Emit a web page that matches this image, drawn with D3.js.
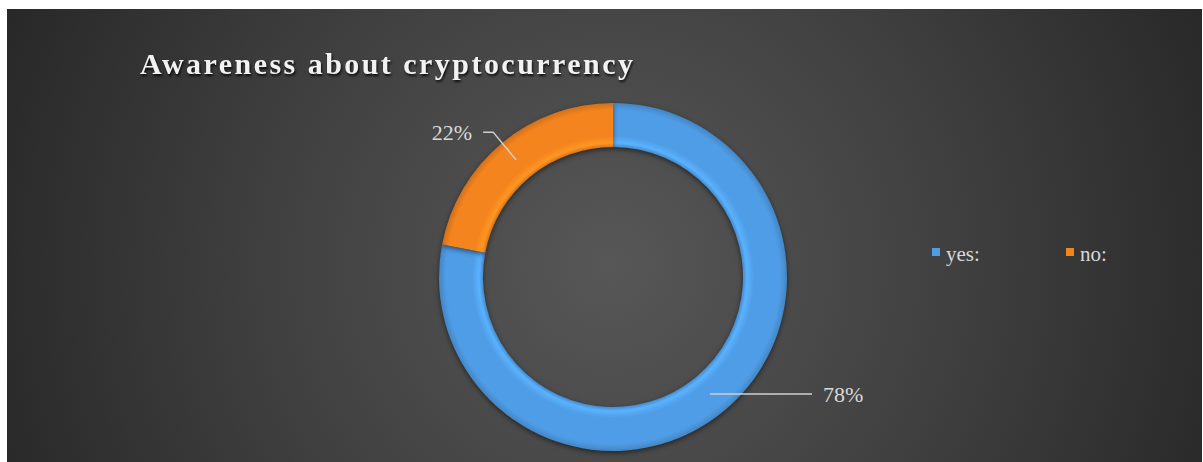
<!DOCTYPE html>
<html>
<head>
<meta charset="utf-8">
<script src="https://cdn.jsdelivr.net/npm/d3@7"></script>
<style>
  body { margin: 0; background: #fff; }
  svg { display: block; }
  text { font-family: "Liberation Serif", "Times New Roman", serif; }
</style>
</head>
<body>
<div id="chart"></div>
<script>
// data
const categories = ['yes:', 'no:'];
const values = [78, 22];
const labels = ['78%', '22%'];
const colors = ['#4f9de6', '#f4841e'];

const W = 1203, H = 462;
const cx = 613, cy = 277;
const rOut = 174, rIn = 130;

const svg = d3.select('#chart')
  .append('svg')
  .attr('width', W)
  .attr('height', H);

const defs = svg.append('defs');

// background radial gradient
const bg = defs.append('radialGradient')
  .attr('id', 'bg')
  .attr('gradientUnits', 'userSpaceOnUse')
  .attr('cx', 610).attr('cy', 265).attr('r', 680);
bg.append('stop').attr('offset', 0).attr('stop-color', '#575757');
bg.append('stop').attr('offset', 0.5).attr('stop-color', '#404040');
bg.append('stop').attr('offset', 1).attr('stop-color', '#262626');

// bevel for the slices (gradient in the plot group's own space)
colors.forEach(function(c, i){
  const g = defs.append('radialGradient')
    .attr('id', 'slice' + i)
    .attr('gradientUnits', 'userSpaceOnUse')
    .attr('cx', 0).attr('cy', 0).attr('r', rOut);
  const base = d3.color(c);
  g.append('stop').attr('offset', rIn / rOut).attr('stop-color', base.darker(0.35));
  g.append('stop').attr('offset', (rIn + 4) / rOut).attr('stop-color', base.brighter(0.35));
  g.append('stop').attr('offset', (rIn + 11) / rOut).attr('stop-color', base);
  g.append('stop').attr('offset', (rOut - 7) / rOut).attr('stop-color', base);
  g.append('stop').attr('offset', 1).attr('stop-color', base.darker(0.45));
});

const shadow = defs.append('filter').attr('id', 'shadow')
  .attr('color-interpolation-filters', 'sRGB')
  .attr('x', '-20%').attr('y', '-20%').attr('width', '140%').attr('height', '140%');
shadow.append('feDropShadow')
  .attr('dx', 0).attr('dy', 2).attr('stdDeviation', 2.5)
  .attr('flood-color', '#000').attr('flood-opacity', 0.5);

const tshadow = defs.append('filter').attr('id', 'tshadow')
  .attr('color-interpolation-filters', 'sRGB');
tshadow.append('feDropShadow')
  .attr('dx', 1).attr('dy', 2).attr('stdDeviation', 1.2)
  .attr('flood-color', '#000').attr('flood-opacity', 0.8);

svg.append('rect')
  .attr('x', 7).attr('y', 9)
  .attr('width', 1195).attr('height', H - 9)
  .attr('fill', 'url(#bg)');

// title
svg.append('text')
  .attr('x', 140)
  .attr('y', 74)
  .attr('textLength', 493)
  .attr('lengthAdjust', 'spacing')
  .attr('font-size', 30)
  .attr('font-weight', 'bold')
  .attr('fill', '#f2f2f2')
  .attr('filter', 'url(#tshadow)')
  .text('Awareness about cryptocurrency');

// donut
const pie = d3.pie().sort(null).value(d => d);
const arcs = pie(values);
const arc = d3.arc().innerRadius(rIn).outerRadius(rOut);

const plot = svg.append('g')
  .attr('transform', `translate(${cx}, ${cy})`);

plot.selectAll('.slice')
  .data(arcs)
  .enter()
  .append('path')
  .attr('class', 'slice')
  .attr('d', arc)
  .attr('fill', (d, i) => `url(#slice${i})`)
  .attr('filter', 'url(#shadow)');

// labels with leader lines
const rMid = (rIn + rOut) / 2;
function polar(angle, r){
  return [r * Math.sin(angle), -r * Math.cos(angle)];
}

arcs.forEach(function(d, i){
  const mid = (d.startAngle + d.endAngle) / 2;
  const p0 = polar(mid, rMid);
  let pts, tx, anchor;
  if (Math.sin(mid) > 0) {
    pts = [p0, [199, p0[1]]];
    tx = 210; anchor = 'start';
  } else {
    const p1 = polar(mid, 188);
    pts = [p0, p1, [p1[0] - 10, p1[1]]];
    tx = p1[0] - 21; anchor = 'end';
  }
  plot.append('path')
    .attr('d', d3.line()(pts))
    .attr('fill', 'none')
    .attr('stroke', '#d0d0d0')
    .attr('stroke-width', 1.5);
  plot.append('text')
    .attr('x', tx)
    .attr('y', pts[pts.length - 1][1] + 8)
    .attr('text-anchor', anchor)
    .attr('font-size', 22)
    .attr('fill', '#d9d9d9')
    .text(labels[i]);
});

// legend
const legendX = d3.scalePoint()
  .domain(categories)
  .range([932, 1066]);

const legend = svg.selectAll('.legend')
  .data(categories)
  .enter()
  .append('g')
  .attr('class', 'legend')
  .attr('transform', d => `translate(${legendX(d)}, 248)`);

legend.append('rect')
  .attr('width', 8).attr('height', 8)
  .attr('fill', (d, i) => colors[i]);

legend.append('text')
  .attr('x', 14)
  .attr('y', 13)
  .attr('font-size', 21)
  .attr('fill', '#d9d9d9')
  .text(d => d);
</script>
</body>
</html>
